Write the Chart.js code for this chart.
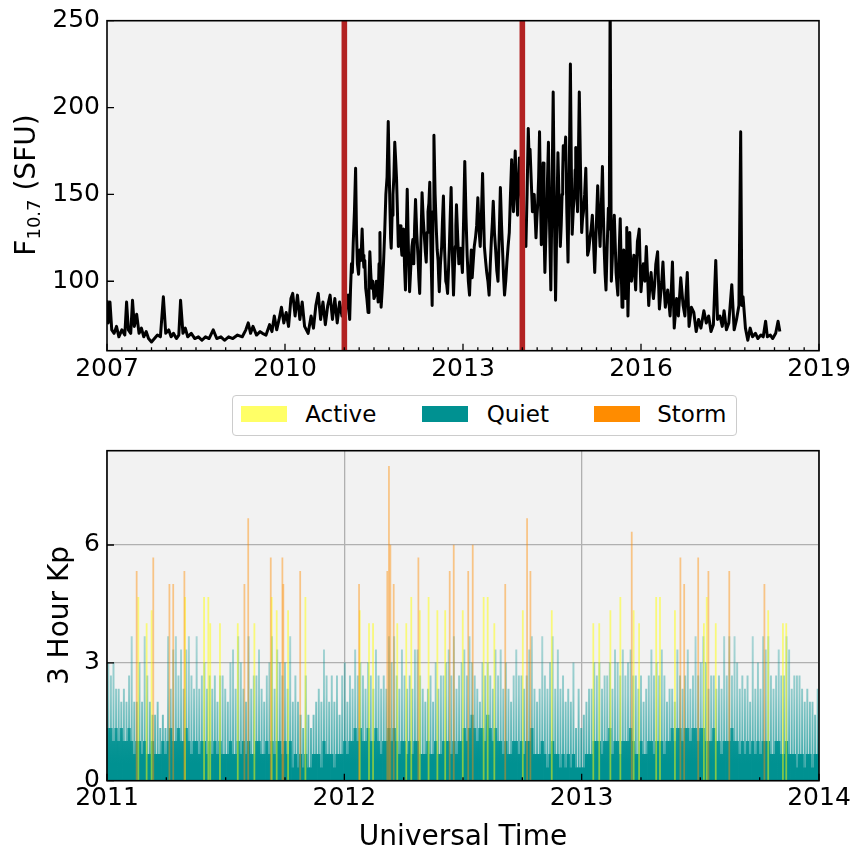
<!DOCTYPE html>
<html lang="en">
<head>
<meta charset="UTF-8">
<title>F10.7 and 3 hour Kp</title>
<script src="https://cdn.jsdelivr.net/npm/chart.js@4.4.1/dist/chart.umd.min.js"></script>
<style>
    body { margin: 0; background: #fff; font-family: "DejaVu Sans", sans-serif; }
    #wrap { position: relative; width: 857px; height: 852px; }
    canvas { position: absolute; left: 0; }
    #f107 { top: 0; }
    #kp { top: 440px; }
    #legend { position: absolute; left: 232px; top: 395px; width: 505px; height: 41px; box-sizing: border-box;
              border: 1.3px solid #cccccc; border-radius: 4px; background: #fff; }
    .sw { position: absolute; top: 9.7px; width: 45.6px; height: 16px; }
    .lab { position: absolute; top: 7.2px; font-size: 23px; line-height: 23px; color: #000; white-space: nowrap; }
</style>
</head>
<body>
<div id="wrap">
    <canvas id="f107" width="857" height="385"></canvas>
    <canvas id="kp" width="857" height="412"></canvas>
    <div id="legend">
        <div class="sw" style="left:8.4px; background:rgba(255,255,0,0.6);"></div>
        <div class="lab" style="left:72.2px;">Active</div>
        <div class="sw" style="left:189.4px; background:rgb(0,145,145);"></div>
        <div class="lab" style="left:253.7px;">Quiet</div>
        <div class="sw" style="left:361px; background:rgb(255,140,0);"></div>
        <div class="lab" style="left:424.2px;">Storm</div>
    </div>
</div>
<script>
    // ---- top panel: daily F10.7 (roughly every 2 weeks) ----
    var f107Year = [
        2007.00, 2007.02, 2007.05, 2007.08, 2007.12, 2007.16, 2007.20, 2007.25, 2007.30, 2007.33, 2007.36, 2007.40, 2007.43,
        2007.46, 2007.50, 2007.54, 2007.58, 2007.62, 2007.66, 2007.70, 2007.75, 2007.80, 2007.85, 2007.90, 2007.95, 2007.99,
        2008.04, 2008.08, 2008.12, 2008.17, 2008.21, 2008.24, 2008.28, 2008.32, 2008.36, 2008.42, 2008.48, 2008.54, 2008.60,
        2008.66, 2008.72, 2008.79, 2008.85, 2008.92, 2008.98,
        2009.05, 2009.12, 2009.20, 2009.28, 2009.34, 2009.38, 2009.42, 2009.46, 2009.52, 2009.58, 2009.62, 2009.68, 2009.74,
        2009.78, 2009.82, 2009.86, 2009.90, 2009.94, 2009.98,
        2010.02, 2010.06, 2010.10, 2010.13, 2010.17, 2010.21, 2010.25, 2010.29, 2010.33, 2010.39, 2010.44, 2010.48, 2010.52,
        2010.56, 2010.60, 2010.64, 2010.68, 2010.72, 2010.76, 2010.80, 2010.84, 2010.88, 2010.92, 2010.96,
        2011.00, 2011.04, 2011.09, 2011.12, 2011.15, 2011.19, 2011.22, 2011.26, 2011.30, 2011.33, 2011.36, 2011.40, 2011.43,
        2011.46, 2011.50, 2011.54, 2011.57, 2011.60, 2011.62, 2011.66, 2011.70, 2011.74, 2011.77, 2011.79, 2011.82, 2011.85,
        2011.88, 2011.91, 2011.94, 2011.97,
        2012.00, 2012.03, 2012.06, 2012.10, 2012.14, 2012.17, 2012.20, 2012.24, 2012.27, 2012.31, 2012.35, 2012.38, 2012.41,
        2012.44, 2012.48, 2012.51, 2012.55, 2012.58, 2012.60, 2012.64, 2012.67, 2012.71, 2012.74, 2012.77, 2012.80, 2012.84,
        2012.87, 2012.89, 2012.93, 2012.96, 2012.99,
        2013.03, 2013.07, 2013.11, 2013.14, 2013.17, 2013.21, 2013.25, 2013.29, 2013.33, 2013.36, 2013.40, 2013.44, 2013.48,
        2013.51, 2013.55, 2013.59, 2013.63, 2013.67, 2013.70, 2013.74, 2013.78, 2013.82, 2013.85, 2013.88, 2013.92, 2013.95,
        2013.98,
        2014.02, 2014.06, 2014.10, 2014.13, 2014.17, 2014.20, 2014.23, 2014.26, 2014.29, 2014.32, 2014.35, 2014.38, 2014.41,
        2014.44, 2014.48, 2014.52, 2014.56, 2014.60, 2014.64, 2014.67, 2014.69, 2014.73, 2014.77, 2014.81, 2014.84, 2014.88,
        2014.90, 2014.93, 2014.96,
        2015.00, 2015.03, 2015.07, 2015.10, 2015.14, 2015.18, 2015.22, 2015.27, 2015.31, 2015.35, 2015.38, 2015.41, 2015.45,
        2015.48, 2015.50, 2015.53, 2015.55, 2015.58, 2015.61, 2015.65, 2015.68, 2015.71, 2015.74, 2015.76, 2015.78, 2015.81,
        2015.84, 2015.88, 2015.91, 2015.94, 2015.97,
        2016.00, 2016.04, 2016.09, 2016.13, 2016.17, 2016.21, 2016.25, 2016.28, 2016.31, 2016.35, 2016.37, 2016.41, 2016.45,
        2016.49, 2016.53, 2016.56, 2016.60, 2016.63, 2016.67, 2016.71, 2016.74, 2016.78, 2016.81, 2016.85, 2016.89, 2016.93,
        2016.97,
        2017.01, 2017.06, 2017.10, 2017.14, 2017.18, 2017.22, 2017.26, 2017.29, 2017.33, 2017.37, 2017.40, 2017.44, 2017.48,
        2017.53, 2017.57, 2017.61, 2017.65, 2017.68, 2017.70, 2017.72, 2017.76, 2017.80, 2017.84, 2017.88, 2017.93, 2017.97,
        2018.02, 2018.06, 2018.10, 2018.13, 2018.18, 2018.22, 2018.27, 2018.31, 2018.34
    ];
    var f107Flux = [
        89, 76, 88, 72, 70, 74, 68, 72, 69, 88, 72, 70, 89,
        74, 81, 70, 73, 68, 71, 67, 65, 67, 69, 68, 91, 70,
        72, 68, 70, 67, 69, 89, 70, 73, 68, 70, 67, 68, 66,
        68, 67, 72, 67, 68, 66,
        68, 67, 69, 68, 72, 76, 70, 74, 69, 71, 70, 69, 75,
        71, 80, 72, 78, 85, 76,
        82, 74, 90, 93, 80, 92, 78, 88, 74, 70, 80, 73, 86,
        93, 78, 88, 75, 86, 92, 78, 90, 76, 88, 80,
        84, 90, 78, 110, 122, 165, 110, 118, 130, 108, 96, 82, 117,
        96, 90, 100, 88, 128, 85, 110, 150, 192, 140, 119, 150, 180,
        159, 120, 132, 115,
        130, 95, 153, 94, 120, 110, 147, 115, 93, 151, 125, 111, 140,
        157, 86, 184, 130, 112, 94, 120, 149, 100, 93, 120, 154, 92,
        120, 144, 110, 119, 105,
        169, 115, 92, 118, 110, 125, 148, 120, 162, 120, 105, 92, 125,
        146, 118, 100, 154, 115, 92, 111, 128, 170, 140, 175, 138, 171,
        150,
        135, 120, 188, 176, 140, 150, 125, 145, 186, 121, 168, 105, 140,
        180, 95, 209, 89, 174, 120, 150, 178, 183, 111, 225, 127, 150,
        177, 140, 209,
        128, 140, 165, 115, 125, 138, 105, 155, 120, 166, 118, 95, 142,
        265, 100, 125, 138, 105, 92, 136, 85, 118, 90, 131, 80, 128,
        100, 115, 95, 123, 130,
        94, 110, 120, 86, 105, 90, 110, 117, 84, 100, 111, 85, 95,
        80, 111, 73, 90, 80, 102, 86, 80, 105, 74, 85, 82, 71,
        78,
        73, 83, 76, 80, 71, 75, 112, 78, 80, 74, 83, 72, 76,
        98, 72, 78, 86, 186, 86, 91, 73, 66, 73, 68, 70, 67,
        69, 68, 77, 68, 69, 67, 70, 77, 71
    ];
    // day to day wiggles between the rotation peaks, solar max years
    var f107WiggleYear = [
        2011.02, 2011.065, 2011.105, 2011.135, 2011.17, 2011.205, 2011.24, 2011.28, 2011.315, 2011.345, 2011.38, 2011.415,
        2011.445, 2011.48, 2011.52, 2011.555, 2011.585, 2011.61, 2011.64, 2011.68, 2011.72, 2011.755, 2011.78, 2011.805,
        2011.835, 2011.865, 2011.895, 2011.925, 2011.955, 2011.985,
        2012.015, 2012.045, 2012.08, 2012.12, 2012.155, 2012.185, 2012.22, 2012.255, 2012.29, 2012.33, 2012.365, 2012.395,
        2012.425, 2012.46, 2012.495, 2012.53, 2012.565, 2012.59, 2012.62, 2012.655, 2012.69, 2012.725, 2012.755, 2012.785,
        2012.82, 2012.855, 2012.88, 2012.91, 2012.945, 2012.975,
        2013.01, 2013.05, 2013.09, 2013.125, 2013.155, 2013.19, 2013.23, 2013.27, 2013.31, 2013.345, 2013.38, 2013.42,
        2013.46, 2013.495, 2013.53, 2013.57, 2013.61, 2013.65, 2013.685, 2013.72, 2013.76, 2013.80, 2013.835, 2013.865,
        2013.90, 2013.935, 2013.965, 2013.995,
        2014.04, 2014.08, 2014.115, 2014.15, 2014.185, 2014.215, 2014.245, 2014.275, 2014.305, 2014.335, 2014.365, 2014.395,
        2014.425, 2014.46, 2014.50, 2014.54, 2014.58, 2014.62, 2014.655, 2014.68, 2014.71, 2014.75, 2014.79, 2014.825,
        2014.86, 2014.89, 2014.915, 2014.945, 2014.98,
        2015.015, 2015.05, 2015.085, 2015.12, 2015.16, 2015.20, 2015.245, 2015.29, 2015.33, 2015.365, 2015.395, 2015.43,
        2015.465, 2015.515, 2015.54, 2015.565, 2015.595, 2015.63, 2015.665, 2015.695, 2015.725, 2015.75, 2015.77, 2015.795,
        2015.825, 2015.86, 2015.895, 2015.925, 2015.955, 2015.985,
        2016.02, 2016.065, 2016.11, 2016.15, 2016.19, 2016.23, 2016.295, 2016.33, 2016.39, 2016.43, 2016.47, 2016.51
    ];
    var f107WiggleFlux = [
        80, 92, 96, 105, 140, 128, 104, 112, 115, 112, 90, 100,
        105, 100, 92, 96, 110, 98, 96, 128, 160, 165, 125, 138,
        160, 170, 140, 125, 122, 126,
        108, 128, 118, 108, 124, 132, 128, 102, 122, 136, 117, 128,
        145, 118, 140, 150, 118, 102, 110, 136, 118, 98, 106, 138,
        116, 108, 132, 126, 112, 112,
        135, 138, 100, 106, 102, 120, 132, 130, 138, 140, 112, 100,
        110, 134, 128, 106, 126, 132, 102, 100, 120, 150, 152, 158,
        152, 155, 160, 142,
        128, 150, 170, 158, 146, 138, 136, 160, 150, 142, 130, 124,
        160, 130, 150, 140, 132, 146, 132, 162, 170, 140, 160, 168,
        142, 164, 160, 172, 166,
        136, 150, 140, 118, 130, 122, 130, 136, 142, 140, 104, 120,
        130, 112, 130, 122, 98, 115, 110, 102, 105, 112, 104, 106,
        112, 108, 104, 110, 126, 110,
        104, 100, 104, 98, 96, 98, 100, 92, 96, 90, 88, 94
    ];
    var markerYears = [2011, 2014];
    var fluxMin = 60, fluxMax = 250;
    var fluxTicks = [100, 150, 200, 250];

    // ---- bottom panel: 3 hour Kp 2011-2013 ----
    // quiet Kp read in 4 day bins: highest value and the level the bulk of the bin reaches
    var quietPeakKp = [
        3.0, 2.67, 3.0, 2.33, 2.33, 2.0, 2.33, 2.0, 2.67, 3.67, 2.0, 2.0, 3.0, 2.0, 3.67, 2.67, 2.0, 1.67, 1.67, 2.0, 1.33, 1.67, 1.33,
        3.67, 2.33, 3.33, 3.67, 2.67, 3.33, 2.33, 3.33, 3.67, 2.67, 2.33, 3.67, 2.33, 2.67, 3.0, 2.33, 2.67, 2.33, 2.67, 2.0, 2.67, 2.67, 2.33,
        2.0, 3.0, 3.33, 2.33, 3.67, 3.0, 2.33, 2.0, 3.67, 2.33, 2.67, 2.67, 3.33, 2.33, 2.0, 2.67, 3.0, 3.67, 2.33, 3.33, 3.0, 2.67, 3.0,
        2.33, 3.67, 2.0, 2.67, 2.0, 1.67, 1.33, 2.67, 1.67, 1.33, 1.67, 2.0, 2.33, 2.0, 3.33, 2.67, 2.0, 2.67, 2.0, 2.67, 1.67, 2.67, 3.0,
        2.0, 2.67, 2.33, 3.33, 2.67, 3.0, 2.67, 2.33, 3.0, 2.67, 2.33, 3.33, 2.67, 2.33, 2.67, 2.33, 3.67, 3.0, 3.67, 2.67, 2.33, 3.33, 2.67,
        2.33, 2.67, 2.33, 3.33, 3.33, 2.67, 2.33, 2.0, 2.33, 2.67, 2.0, 3.0, 2.33, 2.67, 2.67, 3.0, 3.33, 2.67, 3.67, 2.33, 2.67, 3.0,
        3.33, 2.67, 3.67, 3.0, 2.67, 2.33, 2.0, 3.0, 2.67, 3.0, 2.67, 2.33, 3.33, 2.67, 3.33, 2.33, 3.0, 2.33, 2.0, 2.67, 3.33, 2.67, 2.67,
        2.33, 2.67, 3.33, 3.67, 2.33, 2.0, 2.33, 3.67, 2.67, 2.33, 3.0, 3.67, 2.33, 3.33, 2.33, 2.67, 2.0, 2.33, 2.0, 3.0, 1.33, 2.33, 1.33,
        1.67, 2.0, 2.33, 2.33, 3.0, 2.67, 3.0, 2.33, 2.67, 2.67, 3.0, 2.33, 3.33, 3.0, 2.67, 3.33, 2.67, 3.0, 3.33, 2.67, 2.67, 2.33, 2.67,
        2.0, 2.33, 2.67, 3.33, 2.67, 3.0, 2.67, 3.33, 2.67, 2.0, 2.33, 2.33, 2.0, 3.33, 2.67, 2.33, 2.67, 3.33, 2.33, 2.67, 3.67, 2.67, 3.0,
        3.67, 3.0, 2.33, 2.67, 2.67, 2.33, 2.67, 2.33, 3.67, 2.67, 3.67, 2.67, 3.67, 3.0, 2.33, 2.67, 2.33, 2.67, 2.0, 3.67, 2.33, 3.0, 2.33,
        3.67, 3.33, 3.67, 2.67, 2.33, 2.67, 3.33, 2.67, 2.67, 3.67, 3.33, 2.33, 2.67, 2.67, 2.67, 2.33, 2.0, 2.33, 2.0, 2.0, 1.67, 2.33
    ];
    var quietBulkKp = [
        1.33, 1.33, 1.0, 1.33, 1.0, 1.33, 1.0, 1.0, 1.33, 1.0, 0.67, 1.0, 1.0, 0.67, 1.0, 0.67, 0.67, 1.0, 0.67, 0.67, 0.67, 1.0, 0.67,
        1.0, 1.33, 1.0, 1.0, 1.33, 1.0, 1.0, 1.33, 1.0, 0.67, 1.0, 1.0, 0.67, 1.0, 1.0, 0.67, 1.0, 0.67, 1.0, 0.67, 1.0, 0.67, 0.67,
        0.67, 1.0, 0.67, 0.67, 1.0, 0.67, 1.0, 0.67, 1.0, 0.67, 0.67, 1.0, 1.0, 0.67, 0.67, 1.0, 0.67, 1.0, 0.67, 1.0, 1.0, 0.67, 1.0,
        0.67, 1.0, 0.33, 0.67, 0.33, 0.67, 0.33, 0.67, 0.33, 0.33, 0.67, 0.67, 0.67, 0.33, 1.0, 0.67, 0.67, 0.67, 0.33, 0.67, 0.67, 0.67, 1.0,
        0.67, 1.0, 1.0, 1.33, 1.0, 1.33, 1.0, 1.0, 1.33, 1.0, 1.0, 1.33, 1.0, 0.67, 1.0, 1.0, 1.33, 1.0, 1.33, 1.0, 0.67, 1.0, 1.0,
        0.67, 1.0, 0.67, 1.0, 1.0, 0.67, 0.67, 0.67, 1.0, 0.67, 0.67, 1.0, 0.67, 0.67, 1.0, 1.0, 1.0, 0.67, 1.0, 0.67, 1.0, 1.0,
        1.33, 1.0, 1.33, 1.67, 1.33, 1.0, 1.33, 1.33, 1.0, 1.67, 1.33, 1.0, 1.33, 1.0, 1.0, 0.67, 1.0, 0.67, 0.67, 1.0, 1.0, 0.67, 1.0,
        0.67, 1.0, 1.0, 1.33, 0.67, 0.67, 0.67, 1.0, 0.67, 0.33, 0.67, 1.0, 0.67, 0.67, 0.33, 0.67, 0.33, 0.67, 0.33, 0.67, 0.33, 0.33, 0.33,
        0.33, 0.67, 0.67, 0.67, 1.0, 1.0, 1.0, 0.67, 1.0, 1.0, 1.33, 0.67, 1.0, 1.0, 0.67, 1.0, 1.0, 1.0, 1.33, 1.0, 0.67, 0.67, 1.0,
        0.67, 0.67, 1.0, 1.0, 0.67, 1.0, 1.0, 1.0, 0.67, 1.0, 1.0, 1.33, 1.0, 1.33, 1.33, 1.0, 1.33, 1.33, 1.0, 1.33, 1.33, 1.0, 1.33,
        1.33, 1.0, 1.0, 1.0, 1.33, 1.0, 1.0, 0.67, 1.0, 1.0, 1.0, 1.33, 1.0, 1.0, 0.67, 1.0, 0.67, 1.0, 0.67, 1.0, 0.67, 1.0, 0.67,
        1.0, 1.0, 1.0, 0.67, 0.67, 1.0, 1.0, 0.67, 0.67, 1.0, 0.67, 0.67, 0.67, 0.33, 0.67, 0.67, 0.33, 0.67, 0.67, 0.33, 0.67, 0.67
    ];
    var activeYear = [
        2011.132, 2011.167, 2011.188, 2011.329, 2011.409, 2011.427, 2011.435, 2011.476, 2011.551, 2011.621, 2011.694, 2011.715,
        2011.763, 2011.836, 2012.065, 2012.104, 2012.121, 2012.223, 2012.261, 2012.282, 2012.318, 2012.355, 2012.392, 2012.425,
        2012.499, 2012.587, 2012.604, 2012.632, 2012.752, 2012.874, 2013.049, 2013.074, 2013.121, 2013.163, 2013.219, 2013.242,
        2013.314, 2013.330, 2013.393, 2013.515, 2013.527, 2013.565, 2013.786, 2013.848, 2013.862
    ];
    var activeKp = [
        4.67, 4.0, 4.33, 4.67, 4.67, 4.67, 4.0, 4.0, 4.0, 4.0, 4.67, 4.33,
        4.33, 4.67, 4.33, 4.0, 4.0, 4.0, 4.0, 4.67, 4.33, 4.67, 4.33, 4.33,
        4.33, 4.67, 4.67, 4.0, 4.33, 4.33, 4.0, 4.0, 4.33, 4.67, 4.33, 4.0,
        4.67, 4.67, 4.33, 4.0, 4.67, 4.0, 4.33, 4.0, 4.0
    ];
    var stormYear = [
        2011.125, 2011.195, 2011.263, 2011.279, 2011.326, 2011.579, 2011.595, 2011.690, 2011.739, 2011.743, 2011.814,
        2012.062, 2012.181, 2012.188, 2012.194, 2012.208, 2012.312, 2012.444, 2012.461, 2012.522, 2012.541, 2012.678,
        2012.770, 2012.784, 2013.211, 2013.416, 2013.432, 2013.491, 2013.534, 2013.622, 2013.770
    ];
    var stormKp = [
        5.33, 5.67, 5.0, 5.0, 5.33, 5.0, 6.67, 5.67, 5.67, 5.0, 5.33,
        5.0, 5.33, 8.0, 6.0, 5.0, 5.67, 5.33, 6.0, 5.33, 6.0, 5.0,
        6.67, 5.33, 6.33, 5.67, 5.0, 5.67, 5.33, 5.33, 5.0
    ];
    var kpStart = 2011, kpEnd = 2014, kpMax = 8.4;
    var kpTicks = [0, 3, 6];

    Chart.defaults.font.family = '"DejaVu Sans", sans-serif';
    Chart.defaults.color = '#000';

    function quarterTicks(from, to) {
        return function (scale) {
            var t = [];
            for (var q = from * 4; q <= to * 4; q++) t.push({value: q / 4});
            scale.ticks = t;
        };
    }

    function fixedTicks(values) {
        return function (scale) {
            scale.ticks = values.map(function (v) { return {value: v}; });
        };
    }

    function isYear(v) {
        return Math.abs(v - Math.round(v)) < 1e-6;
    }

    // fixed axis boxes, no extra room for overhanging labels
    function fitHeight(h) {
        return function (s) { s.height = h; s.paddingLeft = 0; s.paddingRight = 0; };
    }
    function fitWidth(w) {
        return function (s) { s.width = w; s.paddingTop = 0; s.paddingBottom = 0; };
    }

    // grey plot background
    var plotBg = {
        id: 'plotBg',
        beforeDraw: function (chart) {
            var a = chart.chartArea, ctx = chart.ctx;
            ctx.save();
            ctx.fillStyle = '#f2f2f2';
            ctx.fillRect(a.left, a.top, a.right - a.left, a.bottom - a.top);
            ctx.restore();
        }
    };

    // frame plus inward tick marks
    var frameTicks = {
        id: 'frameTicks',
        afterDraw: function (chart) {
            var ctx = chart.ctx, a = chart.chartArea;
            var xs = chart.scales.x, ys = chart.scales.y;
            ctx.save();
            ctx.strokeStyle = '#000';
            ctx.lineWidth = 1.3;
            ctx.beginPath();
            xs.ticks.forEach(function (t) {
                var px = xs.getPixelForValue(t.value);
                var len = t.label ? 7 : 3.5;
                ctx.moveTo(px, a.bottom);
                ctx.lineTo(px, a.bottom - len);
            });
            ys.ticks.forEach(function (t) {
                var py = ys.getPixelForValue(t.value);
                ctx.moveTo(a.left, py);
                ctx.lineTo(a.left + 7, py);
            });
            ctx.stroke();
            ctx.lineWidth = 1.6;
            ctx.strokeRect(a.left, a.top, a.right - a.left, a.bottom - a.top);
            ctx.restore();
        }
    };

    var fluxTitle = {
        id: 'fluxTitle',
        afterDraw: function (chart) {
            var ctx = chart.ctx;
            ctx.save();
            ctx.fillStyle = '#000';
            ctx.textBaseline = 'alphabetic';
            ctx.font = '28px "DejaVu Sans"';
            var w1 = ctx.measureText('F').width, w3 = ctx.measureText(' (SFU)').width;
            ctx.font = '18px "DejaVu Sans"';
            var w2 = ctx.measureText('10.7').width;
            ctx.translate(34.6, 185 + (w1 + w2 + w3) / 2);
            ctx.rotate(-Math.PI / 2);
            ctx.fillText('10.7', w1, 5.5);
            ctx.font = '28px "DejaVu Sans"';
            ctx.fillText('F', 0, 0);
            ctx.fillText(' (SFU)', w1 + w2, 0);
            ctx.restore();
        }
    };

    var kpTitles = {
        id: 'kpTitles',
        afterDraw: function (chart) {
            var ctx = chart.ctx;
            ctx.save();
            ctx.fillStyle = '#000';
            ctx.font = '28px "DejaVu Sans"';
            ctx.textAlign = 'center';
            ctx.textBaseline = 'alphabetic';
            ctx.fillText('Universal Time', 463, 405);
            ctx.translate(68.4, 175.5);
            ctx.rotate(-Math.PI / 2);
            ctx.fillText('3 Hour Kp', 0, 0);
            ctx.restore();
        }
    };

    var tickFont = {size: 25};

    // top chart
    var fluxPoints = f107Year.map(function (yr, i) { return {x: yr, y: f107Flux[i]}; })
        .concat(f107WiggleYear.map(function (yr, i) { return {x: yr, y: f107WiggleFlux[i]}; }))
        .sort(function (a, b) { return a.x - b.x; });
    var markerSets = markerYears.map(function (yr) {
        return {
            data: [{x: yr, y: fluxMin}, {x: yr, y: fluxMax}],
            borderColor: '#b22222',
            borderWidth: 5.6,
            pointRadius: 0
        };
    });

    new Chart(document.getElementById('f107').getContext('2d'), {
        type: 'line',
        data: {
            datasets: markerSets.concat([{
                data: fluxPoints,
                borderColor: '#000',
                borderWidth: 3,
                borderJoinStyle: 'round',
                pointRadius: 0,
                tension: 0
            }])
        },
        options: {
            responsive: false,
            animation: false,
            devicePixelRatio: 1,
            layout: {padding: {left: 0, top: 20.7, right: 38, bottom: 0}},
            plugins: {legend: {display: false}, tooltip: {enabled: false}},
            scales: {
                x: {
                    type: 'linear', min: 2007, max: 2019,
                    grid: {display: false, drawTicks: false},
                    border: {display: false},
                    afterBuildTicks: quarterTicks(2007, 2019),
                    afterFit: fitHeight(34.3),
                    ticks: {
                        autoSkip: false, maxRotation: 0, padding: 4, font: tickFont,
                        callback: function (v) { return isYear(v) && (Math.round(v) - 2007) % 3 === 0 ? String(Math.round(v)) : ''; }
                    }
                },
                y: {
                    min: fluxMin, max: fluxMax,
                    grid: {display: false, drawTicks: false},
                    border: {display: false},
                    afterBuildTicks: fixedTicks(fluxTicks),
                    afterFit: fitWidth(107),
                    ticks: {padding: 7, font: tickFont}
                }
            }
        },
        plugins: [plotBg, frameTicks, fluxTitle]
    });

    // bottom chart
    var binWidth = (kpEnd - kpStart) / quietPeakKp.length;
    var binYear = quietPeakKp.map(function (v, i) { return kpStart + (i + 0.5) * binWidth; });
    function pts(xs, ys) { return xs.map(function (x, i) { return {x: x, y: ys[i]}; }); }

    // fills fade with height, like many thin overlapping bars
    function tealFade(stops) {
        var cache = null;
        return function (c) {
            var chart = c.chart;
            if (!chart.chartArea) return 'rgba(0,145,145,0.6)';
            if (!cache) {
                var y = chart.scales.y;
                cache = chart.ctx.createLinearGradient(0, y.getPixelForValue(0), 0, y.getPixelForValue(3.67));
                stops.forEach(function (s) { cache.addColorStop(s[0], 'rgba(0,145,145,' + s[1] + ')'); });
            }
            return cache;
        };
    }
    var bulkFill = tealFade([[0, 1], [0.12, 1], [0.3, 0.85], [0.45, 0.7], [1, 0.6]]);
    var peakFill = tealFade([[0, 0.85], [0.3, 0.62], [0.6, 0.42], [1, 0.3]]);

    new Chart(document.getElementById('kp').getContext('2d'), {
        type: 'bar',
        data: {
            datasets: [
                {label: 'Storm', data: pts(stormYear, stormKp), backgroundColor: 'rgba(255,140,0,0.45)', barThickness: 1.1, grouped: false},
                {label: 'Active', data: pts(activeYear, activeKp), backgroundColor: 'rgba(255,255,0,0.5)', barThickness: 1.1, grouped: false},
                {label: 'Quiet', data: pts(binYear, quietBulkKp), backgroundColor: bulkFill, barThickness: 2.7, grouped: false},
                {label: 'Quiet peaks', data: pts(binYear, quietPeakKp), backgroundColor: peakFill, barThickness: 1.3, grouped: false}
            ]
        },
        options: {
            responsive: false,
            animation: false,
            devicePixelRatio: 1,
            layout: {padding: {left: 0, top: 10.7, right: 38, bottom: 0}},
            plugins: {legend: {display: false}, tooltip: {enabled: false}},
            scales: {
                x: {
                    type: 'linear', min: kpStart, max: kpEnd, offset: false, z: 1,
                    grid: {
                        offset: false, drawTicks: false, lineWidth: 1.3,
                        color: function (c) { return c.tick && isYear(c.tick.value) ? '#b0b0b0' : 'rgba(0,0,0,0)'; }
                    },
                    border: {display: false},
                    afterBuildTicks: quarterTicks(kpStart, kpEnd),
                    afterFit: fitHeight(71.3),
                    ticks: {
                        autoSkip: false, maxRotation: 0, padding: 2.5, font: tickFont,
                        callback: function (v) { return isYear(v) ? String(Math.round(v)) : ''; }
                    }
                },
                y: {
                    min: 0, max: kpMax, z: 1,
                    grid: {drawTicks: false, lineWidth: 1.3, color: '#b0b0b0'},
                    border: {display: false},
                    afterBuildTicks: fixedTicks(kpTicks),
                    afterFit: fitWidth(107),
                    ticks: {padding: 7, font: tickFont}
                }
            }
        },
        plugins: [plotBg, frameTicks, kpTitles]
    });
</script>
</body>
</html>
